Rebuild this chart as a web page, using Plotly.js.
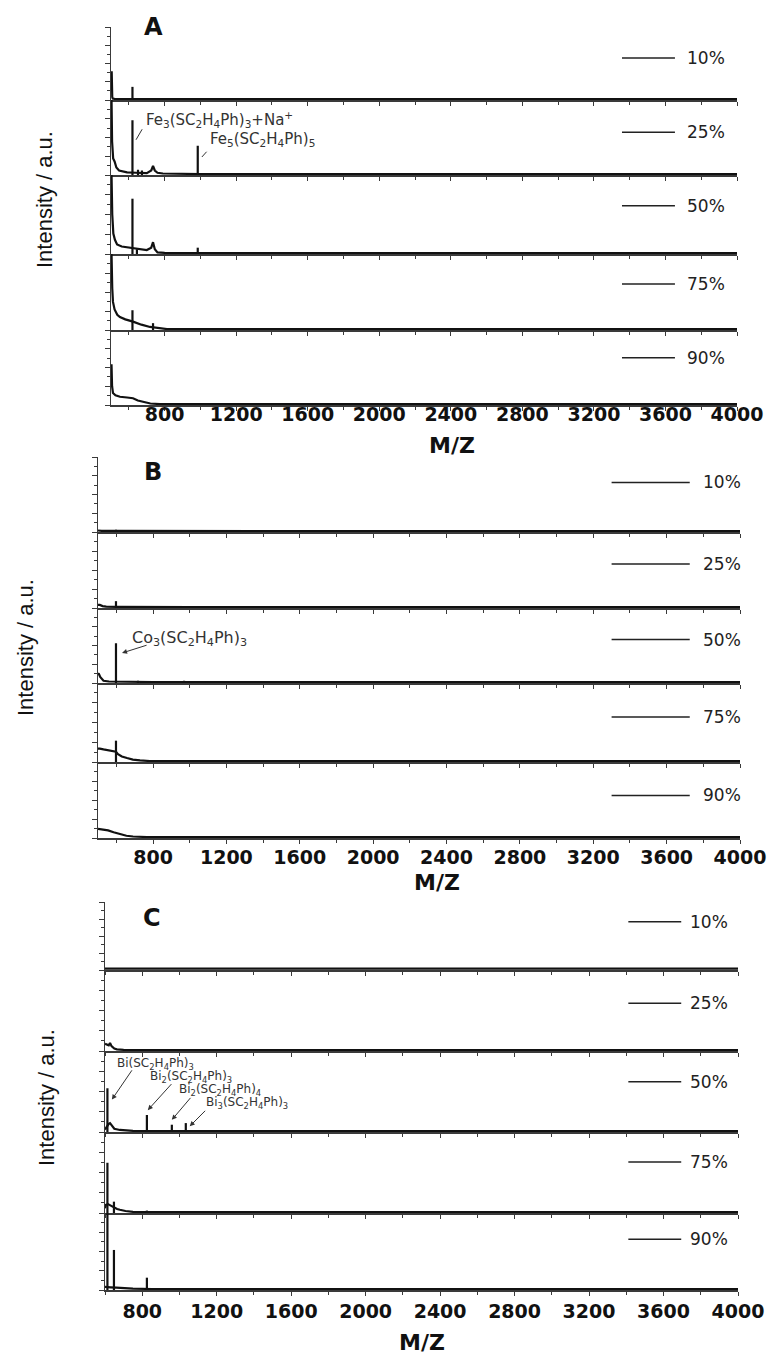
<!DOCTYPE html>
<html><head><meta charset="utf-8">
<script src="https://cdn.plot.ly/plotly-3.0.1.min.js"></script>
<style>html,body{margin:0;padding:0;background:#fff;}#chart{width:774px;height:1354px;}</style>
</head><body><div id="chart"></div>
<script>
// ---------------- DATA ----------------
const levels = ['10%', '25%', '50%', '75%', '90%'];
const panelLetters = ['A', 'B', 'C'];

// Panel A (Fe)
const A10_mz = [500, 504, 507, 510, 520, 600, 800, 1200, 1600, 2000, 2400, 2800, 3200, 3600, 4000];
const A10_int = [38, 38, 4, 2, 1.5, 1.3, 1.2, 1.2, 1.2, 1.2, 1.2, 1.2, 1.2, 1.2, 1.2];
const A10_pk = [620];
const A10_pkI = [18];

const A25_mz = [500, 503, 506, 512, 520, 530, 545, 565, 590, 640, 700, 725, 735, 745, 760, 790, 850, 1000, 1500, 2000, 2500, 3000, 3500, 4000];
const A25_int = [100, 100, 45, 22, 18, 10, 6, 4.5, 3.5, 3, 2.5, 6, 12, 6, 3, 2, 1.5, 1.2, 1.2, 1.2, 1.2, 1.2, 1.2, 1.2];
const A25_pk = [620, 651, 673, 985];
const A25_pkI = [73, 7, 6, 39];

const A50_mz = [500, 503, 507, 513, 522, 534, 560, 600, 650, 700, 725, 735, 745, 760, 800, 900, 1000, 1500, 2000, 2500, 3000, 3500, 4000];
const A50_int = [100, 100, 50, 26, 18, 12, 9.5, 8, 7, 5, 8, 15, 6, 2, 1.5, 1.2, 1.2, 1.2, 1.2, 1.2, 1.2, 1.2, 1.2];
const A50_pk = [620, 645, 985];
const A50_pkI = [70, 6, 8];

const A75_mz = [500, 503, 507, 511, 520, 535, 550, 580, 623, 670, 718, 750, 780, 813, 900, 1000, 1500, 2000, 2500, 3000, 3500, 4000];
const A75_int = [100, 100, 55, 37, 27, 20, 17, 14, 11, 7, 4, 3, 1.8, 1.2, 1.2, 1.2, 1.2, 1.2, 1.2, 1.2, 1.2, 1.2];
const A75_pk = [620, 735];
const A75_pkI = [26, 9];

const A90_mz = [500, 503, 506, 511, 525, 550, 590, 623, 650, 679, 720, 774, 850, 1000, 1500, 2000, 2500, 3000, 3500, 4000];
const A90_int = [53, 53, 25, 16, 13, 11, 10, 9, 6, 4, 2, 1.2, 1.2, 1.2, 1.2, 1.2, 1.2, 1.2, 1.2, 1.2];
const A90_pk = [];
const A90_pkI = [];

// Panel B (Co)
const B10_mz = [500, 520, 600, 800, 1500, 2500, 3500, 4000];
const B10_int = [2, 1.5, 1.5, 1.3, 1.3, 1.3, 1.3, 1.3];
const B10_pk = [598];
const B10_pkI = [3];

const B25_mz = [500, 510, 525, 545, 600, 700, 1000, 2000, 3000, 4000];
const B25_int = [4, 4, 2.5, 1.8, 1.5, 1.3, 1.2, 1.2, 1.2, 1.2];
const B25_pk = [598];
const B25_pkI = [9];

const B50_mz = [500, 505, 512, 520, 530, 560, 600, 700, 800, 1000, 2000, 3000, 4000];
const B50_int = [13, 12, 8, 5, 3, 2, 1.8, 1.5, 1.3, 1.2, 1.2, 1.2, 1.2];
const B50_pk = [598, 718, 969, 1094];
const B50_pkI = [53, 3, 3, 2];

const B75_mz = [500, 510, 530, 555, 580, 598, 609, 630, 658, 690, 729, 783, 900, 1500, 2500, 4000];
const B75_int = [17, 17, 16, 15, 14, 13, 10, 7, 5, 3, 2, 1.2, 1.2, 1.2, 1.2, 1.2];
const B75_pk = [598];
const B75_pkI = [27];

const B90_mz = [500, 520, 555, 585, 620, 655, 691, 767, 900, 1500, 2500, 4000];
const B90_int = [12, 11.5, 10, 7.5, 5, 3, 2, 1.2, 1.2, 1.2, 1.2, 1.2];
const B90_pk = [];
const B90_pkI = [];

// Panel C (Bi)
const C10_mz = [600, 700, 1000, 1500, 2000, 2500, 3000, 3500, 4000];
const C10_int = [2, 2, 2, 2, 2, 2, 2, 2, 2];
const C10_pk = [];
const C10_pkI = [];

const C25_mz = [600, 610, 620, 627, 635, 650, 664, 700, 800, 1000, 2000, 3000, 4000];
const C25_int = [9, 8, 7, 10, 6, 3, 2, 1.5, 1.3, 1.2, 1.2, 1.2, 1.2];
const C25_pk = [];
const C25_pkI = [];

const C50_mz = [600, 605, 611, 620, 627, 635, 650, 680, 750, 900, 1200, 2000, 3000, 4000];
const C50_int = [3, 5, 8, 10, 11, 8, 4, 2.5, 1.5, 1.2, 1.2, 1.2, 1.2, 1.2];
const C50_pk = [613, 825, 959, 1034];
const C50_pkI = [54, 21, 9, 11];

const C75_mz = [600, 605, 616, 630, 648, 665, 680, 710, 750, 850, 1200, 2000, 3000, 4000];
const C75_int = [6, 10, 11, 9, 7, 5, 4, 2.5, 1.5, 1.2, 1.2, 1.2, 1.2, 1.2];
const C75_pk = [613, 648, 825];
const C75_pkI = [62, 14, 3];

const C90_mz = [600, 610, 630, 660, 700, 750, 850, 1200, 2000, 3000, 4000];
const C90_int = [4, 4, 3.5, 3, 2.2, 1.7, 1.3, 1.2, 1.2, 1.2, 1.2];
const C90_pk = [613, 648, 825];
const C90_pkI = [100, 52, 16];

const A_labels = ['Fe<sub>3</sub>(SC<sub>2</sub>H<sub>4</sub>Ph)<sub>3</sub>+Na<sup>+</sup>', 'Fe<sub>5</sub>(SC<sub>2</sub>H<sub>4</sub>Ph)<sub>5</sub>'];
const B_labels = ['Co<sub>3</sub>(SC<sub>2</sub>H<sub>4</sub>Ph)<sub>3</sub>'];
const C_labels = ['Bi(SC<sub>2</sub>H<sub>4</sub>Ph)<sub>3</sub>', 'Bi<sub>2</sub>(SC<sub>2</sub>H<sub>4</sub>Ph)<sub>3</sub>', 'Bi<sub>2</sub>(SC<sub>2</sub>H<sub>4</sub>Ph)<sub>4</sub>', 'Bi<sub>3</sub>(SC<sub>2</sub>H<sub>4</sub>Ph)<sub>3</sub>'];

// ---------------- LAYOUT / STYLE ----------------
const W = 774, H = 1354;
const fx = px => px / W;
const fy = py => 1 - py / H;

const panels = [
  { xr: [500, 4000], xpx: [111, 737], ypx: [27, 100, 175, 254, 330, 405],
    data: [[A10_mz, A10_int, A10_pk, A10_pkI], [A25_mz, A25_int, A25_pk, A25_pkI], [A50_mz, A50_int, A50_pk, A50_pkI], [A75_mz, A75_int, A75_pk, A75_pkI], [A90_mz, A90_int, A90_pk, A90_pkI]],
    letterPos: [153, 27], ytitlePos: [44, 200], mzPos: [452, 445],
    legX: [3357, 3653, 3709], legY: [57.5, 57, 61, 60.5, 63], standoff: -12, noteSize: 15,
    notes: [
      { sub: 1, text: A_labels[0], tx: 684, ty: 74, hx: 640, hy: 47, ax: 679, ay: 63 },
      { sub: 1, text: A_labels[1], tx: 1042, ty: 48, hx: 1008, hy: 24, ax: 1042, ay: 33 }
    ], head: 0 },
  { xr: [500, 4000], xpx: [98, 740], ypx: [457, 532, 608, 683, 762, 838],
    data: [[B10_mz, B10_int, B10_pk, B10_pkI], [B25_mz, B25_int, B25_pk, B25_pkI], [B50_mz, B50_int, B50_pk, B50_pkI], [B75_mz, B75_int, B75_pk, B75_pkI], [B90_mz, B90_int, B90_pk, B90_pkI]],
    letterPos: [153, 472], ytitlePos: [26, 648], mzPos: [437, 882],
    legX: [3300, 3726, 3790], legY: [66, 58, 58, 57, 56], standoff: -2, noteSize: 16,
    notes: [
      { sub: 2, text: B_labels[0], tx: 674, ty: 60, hx: 631, hy: 40, ax: 773, ay: 51 }
    ], head: 2 },
  { xr: [600, 4000], xpx: [105, 738], ypx: [902, 970, 1051, 1132, 1213, 1290],
    data: [[C10_mz, C10_int, C10_pk, C10_pkI], [C25_mz, C25_int, C25_pk, C25_pkI], [C50_mz, C50_int, C50_pk, C50_pkI], [C75_mz, C75_int, C75_pk, C75_pkI], [C90_mz, C90_int, C90_pk, C90_pkI]],
    letterPos: [152, 918], ytitlePos: [46, 1098], mzPos: [422, 1342],
    legX: [3411, 3695, 3732], legY: [71, 59, 62, 63, 66], standoff: 0, noteSize: 12,
    notes: [
      { sub: 2, text: C_labels[0], tx: 654, ty: 84, hx: 637, hy: 40, ax: 750, ay: 78 },
      { sub: 2, text: C_labels[1], tx: 830, ty: 68, hx: 830, hy: 27, ax: 964, ay: 61 },
      { sub: 2, text: C_labels[2], tx: 985, ty: 52, hx: 959, hy: 15, ax: 1066, ay: 44 },
      { sub: 2, text: C_labels[3], tx: 1130, ty: 36, hx: 1055, hy: 7, ax: 1146, ay: 28 }
    ], head: 2 }
];

const traces = [];
const layout = {
  width: W, height: H,
  margin: { l: 0, r: 0, t: 0, b: 0 },
  paper_bgcolor: '#ffffff', plot_bgcolor: 'rgba(0,0,0,0)',
  showlegend: false,
  annotations: [], shapes: []
};
const axisColor = '#3a3a3a';
const textColor = '#222';

let k = 0;
panels.forEach((p, pi) => {
  for (let s = 0; s < 5; s++) {
    k += 1;
    const xr = k === 1 ? 'x' : 'x' + k;
    const yr = k === 1 ? 'y' : 'y' + k;
    const xname = k === 1 ? 'xaxis' : 'xaxis' + k;
    const yname = k === 1 ? 'yaxis' : 'yaxis' + k;
    const bottom = s === 4;
    layout[xname] = {
      domain: [fx(p.xpx[0]), fx(p.xpx[1])], range: p.xr, anchor: yr,
      showline: true, linecolor: axisColor, linewidth: 1.5, mirror: false,
      ticks: 'outside', ticklen: 4, tickwidth: 1, tickcolor: axisColor,
      tick0: 0, dtick: 400,
      minor: { dtick: 200, ticks: 'outside', ticklen: 3, tickwidth: 1, tickcolor: axisColor },
      showgrid: false, zeroline: false,
      showticklabels: bottom, ticklabelstandoff: p.standoff,
      tickfont: { family: 'DejaVu Sans, sans-serif', size: 19, color: '#111', weight: 'bold' },
      fixedrange: true
    };
    layout[yname] = {
      domain: [fy(p.ypx[s + 1]), fy(p.ypx[s])], range: [0, 100], anchor: xr,
      showline: true, linecolor: axisColor, linewidth: 1.5,
      ticks: 'outside', ticklen: 5, tickwidth: 1, tickcolor: axisColor,
      tick0: 0, dtick: 25,
      minor: { dtick: 12.5, ticks: 'outside', ticklen: 3, tickwidth: 1, tickcolor: axisColor },
      showgrid: false, zeroline: false, showticklabels: false, fixedrange: true
    };
    const d = p.data[s];
    traces.push({ x: d[0], y: d[1], xaxis: xr, yaxis: yr, type: 'scatter', mode: 'lines',
      line: { color: '#111', width: 2.2 }, hoverinfo: 'skip' });
    const sx = [], sy = [];
    d[2].forEach((m, i) => { sx.push(m, m, null); sy.push(0, d[3][i], null); });
    if (sx.length) traces.push({ x: sx, y: sy, xaxis: xr, yaxis: yr, type: 'scatter', mode: 'lines',
      line: { color: '#111', width: 2.2 }, hoverinfo: 'skip' });
    layout.shapes.push({ type: 'line', xref: xr, yref: yr, x0: p.legX[0], x1: p.legX[1], y0: p.legY[s], y1: p.legY[s],
      line: { color: '#222', width: 1.5 } });
    layout.annotations.push({ xref: xr, yref: yr, x: p.legX[2], y: p.legY[s], text: levels[s], showarrow: false,
      xanchor: 'left', yanchor: 'middle', font: { family: 'DejaVu Sans, sans-serif', size: 17, color: textColor } });
  }
  const base = k - 5;
  p.notes.forEach(n => {
    const idx = base + n.sub + 1;
    const xr = idx === 1 ? 'x' : 'x' + idx;
    const yr = idx === 1 ? 'y' : 'y' + idx;
    layout.annotations.push({ xref: xr, yref: yr, x: n.tx, y: n.ty, text: n.text, showarrow: false,
      xanchor: 'left', yanchor: 'middle', font: { family: 'DejaVu Sans, sans-serif', size: p.noteSize, color: '#333' } });
    layout.annotations.push({ xref: xr, yref: yr, x: n.hx, y: n.hy, axref: xr, ayref: yr, ax: n.ax, ay: n.ay,
      text: '', showarrow: true, arrowhead: p.head, arrowsize: 1, arrowwidth: 1, arrowcolor: '#333', standoff: 0, startstandoff: 0 });
  });
  layout.annotations.push({ xref: 'paper', yref: 'paper', x: fx(p.letterPos[0]), y: fy(p.letterPos[1]), text: panelLetters[pi],
    showarrow: false, xanchor: 'center', yanchor: 'middle',
    font: { family: 'DejaVu Sans, sans-serif', size: 24, color: '#111', weight: 'bold' } });
  layout.annotations.push({ xref: 'paper', yref: 'paper', x: fx(p.ytitlePos[0]), y: fy(p.ytitlePos[1]), text: 'Intensity / a.u.',
    showarrow: false, textangle: -90, xanchor: 'center', yanchor: 'middle',
    font: { family: 'Liberation Sans, Arial, sans-serif', size: 22, color: '#111' } });
  layout.annotations.push({ xref: 'paper', yref: 'paper', x: fx(p.mzPos[0]), y: fy(p.mzPos[1]), text: 'M/Z',
    showarrow: false, xanchor: 'center', yanchor: 'middle',
    font: { family: 'DejaVu Sans, sans-serif', size: 22, color: '#111', weight: 'bold' } });
});

Plotly.newPlot('chart', traces, layout, { displayModeBar: false, staticPlot: true });
</script>
</body></html>
